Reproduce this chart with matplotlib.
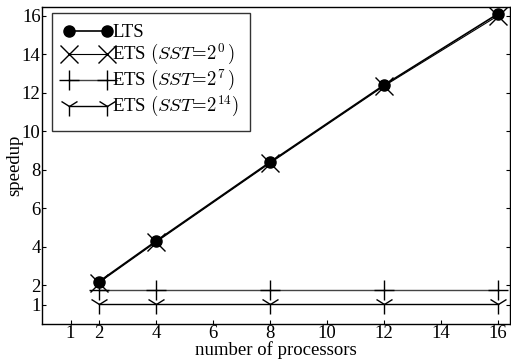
import matplotlib
matplotlib.use("Agg")
import matplotlib.pyplot as plt

plt.rcParams['font.family'] = ['Liberation Serif', 'DejaVu Serif']
plt.rcParams['mathtext.fontset'] = 'cm'

procs = [2, 4, 8, 12, 16]
lts = [2.2, 4.3, 8.4, 12.4, 16.1]
ets_0 = [2.15, 4.25, 8.35, 12.35, 16.0]
ets_7 = [1.78, 1.78, 1.78, 1.78, 1.78]
ets_14 = [1.05, 1.05, 1.05, 1.05, 1.05]
xticks = [1, 2, 4, 6, 8, 10, 12, 14, 16]
yticks = [1, 2, 4, 6, 8, 10, 12, 14, 16]

fig = plt.figure(figsize=(5.11, 3.6), dpi=100)
ax = fig.add_axes([42/511, 1-324/360, (510-42)/511, (324-7)/360])

ax.plot(procs, lts, color='black', lw=1.2, marker='o', ms=8, label='LTS')
ax.plot(procs, ets_0, color='black', lw=0.8, marker='x', ms=13, mew=1.0,
        label=r'ETS $(SST\!=\!2^0\,)$')
ax.plot(procs, ets_7, color='#444444', lw=1.0, marker='+', ms=14, mew=1.0,
        markeredgecolor='black', label=r'ETS $(SST\!=\!2^7\,)$')
ax.plot(procs, ets_14, color='black', lw=1.0, marker='1', ms=14, mew=1.0,
        label=r'ETS $(SST\!=\!2^{14})$')

ax.set_xlim(0, 16.42)
ax.set_ylim(0, 16.45)
ax.set_xticks(xticks)
ax.set_yticks(yticks)
ax.tick_params(direction='in', length=3, labelsize=13.5, pad=1, right=True, top=False)
for s in ax.spines.values():
    s.set_linewidth(1.0)
ax.set_xlabel('number of processors', fontsize=13.5, labelpad=-1)
ax.set_ylabel('speedup', fontsize=13.5)
ax.yaxis.set_label_coords(-0.04, 0.5)

leg = ax.legend(loc='upper left', bbox_to_anchor=(0.022, 0.982), numpoints=2,
                fontsize=13.5, frameon=True, fancybox=False, edgecolor='black',
                handlelength=2.6, handletextpad=0.0, labelspacing=0.05,
                borderpad=0.6, borderaxespad=0.0)
leg.get_frame().set_linewidth(1.0)

fig.savefig('out.png', dpi=100)
